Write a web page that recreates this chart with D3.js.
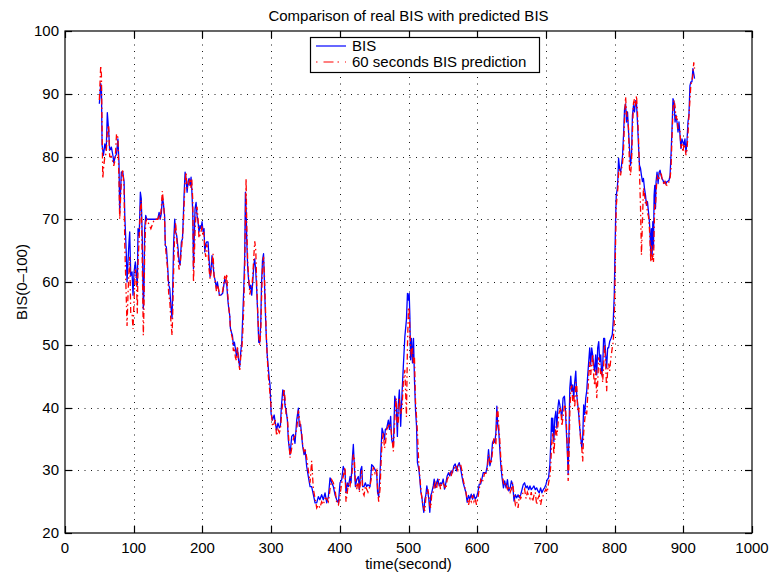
<!DOCTYPE html>
<html>
<head>
<meta charset="utf-8">
<title>Comparison of real BIS with predicted BIS</title>
<script src="https://cdn.jsdelivr.net/npm/d3@7"></script>
<style>
  html, body { margin: 0; padding: 0; background: #fff; }
  svg { display: block; }
  text { font-family: "Liberation Sans", Arial, Helvetica, sans-serif; fill: #000; }
</style>
</head>
<body>
<svg id="chart" width="773" height="573"></svg>
<script>
// Time stamps (seconds) shared by both series
const seconds = [
  50, 52, 53, 54, 55, 56, 58, 60, 61.6, 63.6,
  65, 67.5, 70, 71, 73, 75, 77, 78.6, 79.6, 82,
  84, 86, 87, 88, 89.3, 90.3, 91.7, 93.2, 94.2, 95.7,
  97.6, 99, 100.5, 102.4, 104, 105.3, 106.3, 108, 109.7, 111,
  112.6, 114, 115, 116, 117.5, 119,
  125, 130, 135, 137, 138.5, 140.3, 141.7, 143, 145, 146,
  147.5, 149, 151, 152.5, 154, 155.8, 156.8, 158.2, 159.7, 161,
  162.6, 164.6, 166, 167.5, 169.4, 171, 172.3, 173.3, 174.8, 176.2,
  177.7, 179.2, 180.6, 182, 183.5, 184.5, 186, 187, 188, 189.3,
  190.8, 192.2, 193.7, 195, 196.6, 198, 199.5, 201, 202.4, 203.4,
  205, 206.3, 208.2, 209.7, 211.2, 212.6, 214, 215.5, 217, 219,
  220.4, 221.8, 223.3, 224.7, 227, 229.5, 232.5, 234, 235.5, 236.9,
  238.4, 239.8, 240.8, 242.2, 243.7, 245.1, 246.6, 248, 249.5, 251,
  252.9, 254.4, 255.8, 257.3, 258.8, 260.2, 261.6, 262.6, 263.6, 264.6,
  266, 267.5, 269, 270.4, 271.8, 273.3, 274.8, 276.2, 277.7, 279,
  280.6, 282, 283.5, 285, 286, 287.5, 289, 290.3, 291.5, 292.9,
  294.4, 296, 297.3, 298.5, 300, 302, 304.5, 306, 308, 310,
  312, 313.5, 315, 317, 318.8, 320.3, 321.7, 323.7, 325, 327.6,
  330, 332.4, 334.8, 337.3, 339.7, 341, 343, 344.5, 346, 348,
  349.4, 351.8, 354.2, 356.7, 359, 361.5, 364, 366.4, 368.8, 371,
  373.6, 376, 378.5, 381, 383.4, 385.8, 388.2, 390.6, 393, 395.5,
  398, 400.3, 402.8, 405, 407.6, 409, 411, 412.5, 415, 416.4,
  417.8, 419.7, 421.2, 422.7, 424.6, 427, 428.5, 430.4, 432, 433.3,
  435.3, 437.2, 439, 441, 444, 446.4, 448.9, 451.3, 453.7, 455,
  456.6, 458.6, 460, 461.5, 463.4, 465, 466.3, 468.3, 470.7, 472.2,
  474, 475.5, 478, 480, 482, 483.8, 485, 486.7, 488.6, 490.6,
  492.5, 494.7, 497, 498.5, 500, 501, 502, 503, 504.4, 505.8,
  507.3, 508.7, 510.2, 511.7, 513, 515, 516.5, 518, 519.5, 520.9,
  522.3, 523.8, 525.2, 526.7, 528.1, 529.6, 531, 532.5, 534, 536,
  537.4, 538.8, 540.8, 542.7, 544.7, 546.6, 548.5, 550.5, 552.4, 554.4,
  556.3, 558.3, 560.2, 562, 564, 566, 568, 570, 571.8, 573.8,
  575.7, 577.7, 579.6, 581.6, 583.5, 585.4, 587.4, 589.3, 591.3, 593.2,
  595.2, 597, 599, 601, 603, 605, 606.8, 608.7, 610.7, 612.6,
  614.6, 616.5, 618.5, 620.4, 622.3, 624.2, 625.7, 627.2, 628.6, 630,
  631.4, 632.8, 634.3, 636.2, 638.2, 640, 642, 644, 646, 648,
  649.8, 651.7, 653.6, 655.6, 657.5, 659.5, 661.4, 663.3, 665.2, 667,
  669, 671, 673, 674.9, 676.8, 678.7, 680.7, 682.6, 684.6, 686.5,
  688.4, 690.3, 692.3, 694.2, 696.1, 698, 700, 701.9, 703.9, 705.8,
  707.2, 708.2, 709.2, 710, 711.6, 713, 714.5, 716, 717.4, 718.8,
  720.3, 721.7, 723.2, 725, 727, 728.5, 730, 731.4, 732.4, 733.3,
  734.8, 736.2, 737.6, 739, 740.5, 742, 743.5, 744.9, 746.4, 747.8,
  749.3, 750.7, 752.2, 753.6, 755, 756.5, 758, 759.4, 760.9, 762.3,
  763.8, 765.2, 766.7, 768.1, 769.6, 771, 772.5, 774, 775.4, 776.9,
  778.3, 779.8, 781.2, 782.6, 784, 785.5, 787, 788.4, 789.9, 791.3,
  792.8, 794.7, 796.6, 798, 799.5, 800.5, 801.4, 802.4, 803.9, 804.8,
  805.8, 807.2, 808.7, 810.1, 811.6, 813, 814.5, 816, 817.4, 818.8,
  820.3, 821.7, 823.2, 824.6, 826, 827.5, 829, 830.4, 831.9, 833.3,
  834.8, 836.2, 837.7, 839.1, 840.6, 842, 843.5, 845, 846.4, 847.8,
  849.3, 850.7, 851.7, 852.7, 853.7, 854.6, 855.6, 856.6, 857.5, 858.5,
  859.5, 860.4, 861.8, 863.3, 864.7, 866.2, 867.6, 869, 870.5, 872,
  873.4, 874.9, 876.3, 877.8, 879.2, 880.7, 882.1, 883.6, 885, 886.5,
  888, 889.4, 890.8, 892.3, 893.7, 895.2, 896.6, 898, 899.5, 901,
  902.4, 903.9, 905.3, 906.8, 908.2, 909.7, 911, 912.6, 914, 915.2, 916.4
];

// Measured BIS
const bis = [
  88.4, 91.6, 91, 81.8, 81, 80.2, 82, 81, 87, 84,
  81, 81.5, 80, 79, 80, 80.4, 82.8, 79, 71, 77.5,
  77.6, 76, 70.6, 68, 64.2, 60, 63.2, 66.4, 68, 61,
  61.6, 57.9, 61.6, 63.2, 61, 59.5, 68.5, 67.4, 74.3, 73.3,
  66.4, 55.7, 58.9, 68.5, 70.6, 70,
  70, 70, 70, 71.1, 70, 71, 73.5, 72.7, 70.6, 65.8,
  65.6, 63.2, 59.5, 59, 56.3, 54.2, 59, 66.4, 70, 68,
  67.4, 65.3, 63.2, 62.7, 66.4, 66.9, 70.6, 73.8, 77.5, 76.5,
  74.3, 76, 76.5, 75.4, 76.7, 74.9, 71, 62.1, 66.4, 71.7,
  72.7, 70.6, 69.6, 68, 69, 68.5, 69.6, 68, 68.5, 64.8,
  66.1, 66.4, 66.4, 63.7, 60.8, 62.1, 64.2, 62.7, 61, 60,
  59, 60, 59, 57.9, 57.9, 58.2, 60.5, 60, 59.5, 57.3,
  55.7, 54.7, 52.6, 52, 51.5, 49.9, 50.4, 49.4, 48.3, 49.4,
  47.3, 46.5, 48.8, 50.4, 54.7, 58.9, 64.2, 74.3, 71.7, 66.4,
  62.1, 60, 58.9, 59.5, 57.9, 60, 62.7, 63.7, 61.6, 58.9,
  54.7, 50.4, 50.4, 53.6, 59.5, 63.5, 64.5, 60, 55.7, 51.5,
  48.3, 46.2, 44.6, 43.5, 39, 38, 38.8, 37.6, 36.4, 37.5,
  36.8, 37, 40.2, 42.8, 42.6, 40.2, 39.7, 38, 34.9, 32.5,
  35.4, 35.7, 34.3, 38, 39.9, 37, 37.3, 35.4, 33.8, 32.5,
  33.3, 30.6, 29, 27.4, 27.4, 26.1, 24.8, 24.8, 25.8, 25.3,
  26.1, 25.3, 26.4, 24.8, 25.8, 28.8, 28, 27.4, 26.1, 25.3,
  24.8, 28, 28.5, 30.6, 29.8, 26.4, 28, 27.4, 29, 28,
  31.1, 34.1, 30.6, 27.4, 28.5, 29, 26.9, 30.1, 30.6, 27.4,
  27.4, 28, 27.4, 27.7, 27.4, 30.9, 30.6, 30.1, 29.6, 26.4,
  25.8, 29.6, 33.3, 36.7, 35.9, 34.9, 36.5, 36.7, 38, 36.5,
  38.6, 34.9, 33.8, 41.8, 40.7, 35.4, 40.2, 42.8, 37, 42.3,
  46.6, 51.3, 54, 58.2, 57.1, 58.2, 54.5, 47.6, 51, 47.1,
  51, 44.4, 39.7, 37, 31.2, 30.2, 28.6, 26.5, 25.7, 24.3,
  23.3, 25.4, 26, 27.5, 26.5, 25.4, 23.3, 26, 26.5, 27.5,
  28.6, 27.2, 28, 28.6, 27.5, 28, 27.8, 28.6, 27, 28,
  29.1, 29.6, 29.1, 29.9, 29.6, 30.7, 31, 29.9, 30.7, 31.2,
  30.4, 29.1, 28, 27.2, 26.5, 24.9, 26, 25.4, 26.2, 25.4,
  26.2, 25.4, 25.7, 26.5, 27.8, 27.8, 28.6, 29.6, 29.6, 29.6,
  30.7, 33.3, 30.7, 31.7, 34.4, 34.9, 34.4, 36, 40.2, 37,
  36.2, 33.6, 30.9, 28.8, 27.2, 28.3, 27.2, 28.5, 26.7, 27.2,
  28.3, 27.7, 25.1, 26.1, 25.6, 26.1, 25.6, 26.1, 26.9, 27.7,
  28, 27.2, 27.5, 26.9, 27.5, 26.9, 27.2, 27.5, 26.9, 27.2,
  26.7, 26.4, 27.2, 26.4, 26.9, 27.2, 27.7, 28.5, 28.8, 30.9,
  34.6, 38.3, 36.2, 38.3, 34.6, 38.3, 39.4, 36.7, 39.9, 41.2,
  40.4, 39.4, 38.3, 41.5, 41.8, 39.4, 35.7, 32.5, 29.3, 34.1,
  43.1, 45, 42.6, 43.6, 41.5, 44.1, 45.8, 42, 40.4, 38.9,
  36.7, 35.2, 33.6, 35.2, 40.4, 38.9, 41.5, 42.6, 45.2, 47.3,
  49.5, 46.8, 49.5, 48.4, 46.8, 45.8, 48.4, 45.2, 49.5, 50.5,
  47.3, 48.4, 45.2, 46.3, 51, 51, 48.4, 46.3, 49.5, 49.5,
  50.5, 51, 51.6, 53.7, 57.9, 64.3, 69.6, 73.8, 74.9, 76.5,
  79.7, 78.1, 77.5, 78.6, 80.2, 83.4, 87.6, 88.4, 85.5, 87.1,
  83.9, 81.3, 78.6, 80.2, 86.6, 88.1, 87.1, 88.9, 88.4, 85.5,
  81.8, 78.6, 78.1, 77, 76, 76.5, 74.9, 73.8, 72.2, 72.8,
  71.2, 69.6, 67.5, 64.5, 68.5, 64, 69.6, 65.4, 73.8, 75.4,
  71.7, 76, 77.5, 75.7, 77.5, 77.8, 77, 76.5, 76.2, 75.7,
  76, 75.7, 76, 76.1, 76.2, 77, 80.2, 84.4, 89.2, 88.7,
  85.5, 86.6, 85.5, 83.9, 85.5, 83.4, 81.3, 82.8, 82.3, 81.8,
  82.8, 80.7, 82.3, 85.5, 86.6, 91.3, 91.9, 91.9, 94, 93.2, 92.4
];

// 60-second-ahead BIS prediction
const predicted = [
  89, 94.5, 93, 84, 76.5, 78, 80, 80.5, 84, 85,
  80, 80, 79, 78.5, 79.5, 83.6, 83, 76, 70, 76,
  78, 75, 66, 62, 57, 53, 58, 62, 64, 55,
  55, 52.5, 57, 62, 60, 55, 63, 67, 72, 73,
  62, 51.5, 56, 65, 69.5, 70,
  68.5, 70, 70, 70.5, 70, 72, 74.5, 73, 70, 66,
  64, 62.5, 58, 57, 54, 51.5, 55, 62, 68, 69.5,
  67, 64, 62, 62.5, 65, 67, 69, 72, 76, 77.5,
  75, 75, 76, 76.5, 75, 76.5, 73, 60, 63, 68,
  71, 72, 70, 67, 67.5, 68, 69, 67.5, 68, 65,
  64, 66, 65, 62, 60.5, 61.5, 63, 64.5, 61, 60,
  58.5, 59.5, 59, 57.9, 58, 58.5, 61, 59.8, 61.3, 58,
  56, 54.5, 52.5, 51.7, 51, 49, 49.5, 48, 47.5, 49.8,
  47, 46, 48, 49, 52, 56, 62, 70, 76.5, 69,
  63, 60.5, 58, 58.8, 59, 61, 64, 66.5, 65, 60,
  55, 51.5, 50, 52, 57, 62.5, 64, 61, 57, 52,
  48, 45, 43.5, 42, 40, 37, 37.5, 38, 35.5, 36.5,
  36, 36.5, 38.5, 41, 43, 41.5, 39, 38.5, 36, 32,
  33.5, 35, 35.5, 36.5, 39.5, 38.5, 36.5, 36, 34, 33,
  33.5, 32, 30, 28, 31.5, 27, 25.5, 24, 24.5, 24,
  25, 24.5, 25.5, 25.5, 25, 27, 28.5, 28, 27, 24.8,
  24.5, 26, 28, 29, 30.5, 25, 26.5, 28, 27.5, 29,
  29.5, 32.5, 32, 28, 27, 28.5, 26.5, 28.5, 30, 26.5,
  26, 27.5, 27, 26.5, 27.5, 29, 30.5, 29.5, 30, 27,
  25, 27, 31, 34.5, 36, 33.5, 34, 36.5, 37, 37.5,
  37, 35.5, 33, 38, 41.5, 37, 37.5, 41.5, 39, 40,
  44, 46, 38.5, 50, 56, 55.5, 52, 50, 48, 49.5,
  47, 48, 41, 38.5, 36, 31, 29, 27, 25.5, 24.5,
  24, 23.5, 25.5, 26.5, 27, 26, 24.5, 24, 26.5, 26.5,
  27.5, 28, 27, 28.5, 28.5, 27, 28, 28, 27.5, 27,
  28.5, 29, 29.5, 29, 30, 30, 30.8, 30.5, 30, 31,
  31, 30, 28.5, 27.5, 26.5, 25.5, 24.5, 25.5, 25, 26,
  25, 25.5, 24.5, 25.5, 27, 28.5, 28, 28.5, 29.5, 29.5,
  30, 32.5, 31.5, 31, 33, 35, 35, 34, 39, 40,
  37, 35, 32, 30, 28, 27.5, 28, 27, 27.5, 26.5,
  27, 28, 26, 24.5, 25, 24, 26, 25.5, 26, 26.5,
  27, 25.5, 26.5, 26, 25.5, 26.5, 25, 26, 26.5, 24.5,
  25.5, 26, 24.5, 25.5, 26, 26.5, 27, 26.5, 28, 29,
  31, 34, 35, 36, 32.5, 35, 37, 35.5, 37, 39,
  39.5, 40, 37, 38.5, 40.5, 40, 37, 33, 28.3, 30,
  39, 43, 43.5, 41, 42, 40, 44, 43.5, 39.5, 40,
  37, 34.5, 33.6, 31.4, 36, 38, 39.5, 38.9, 42, 45,
  47.3, 45.2, 47, 48.5, 45, 43.5, 46, 41.5, 44, 48,
  47, 45.2, 46, 44, 46.5, 50, 47, 42.6, 46, 47,
  45.8, 48, 49.5, 50.5, 53.7, 60, 66, 72, 74, 75,
  77.5, 78, 77, 78, 79, 81, 86, 89.5, 87, 86,
  84.5, 78, 77, 79, 84, 88.5, 89.2, 88, 89.7, 87,
  83, 77.5, 72, 64.3, 70, 75, 74, 72.5, 73, 71,
  70.5, 68.5, 66, 63.2, 66, 63.5, 64.5, 63.2, 68, 72.5,
  72, 74, 77, 76.5, 76.5, 77.5, 77.5, 76.5, 76, 75.5,
  76, 75.5, 75.4, 75.6, 76, 76.5, 78, 83, 87.5, 89,
  88, 86, 86.5, 84.5, 84.5, 84, 81.3, 82, 80.7, 82,
  81.5, 80.2, 81, 83.5, 86.5, 89, 91.5, 92, 93, 95, 94
];

const xTicks = [0, 100, 200, 300, 400, 500, 600, 700, 800, 900, 1000];
const yTicks = [20, 30, 40, 50, 60, 70, 80, 90, 100];
const seriesNames = ["BIS", "60 seconds BIS prediction"];
const seriesColors = ["#0000ff", "#ff0000"];

const titleText = "Comparison of real BIS with predicted BIS";
const xLabelText = "time(second)";
const yLabelText = "BIS(0\u2013100)";

// ---- layout ----
const svg = d3.select("#chart");
const W = 773, H = 573;
const plot = { left: 65, right: 752, top: 31, bottom: 533 };

svg.append("rect").attr("width", W).attr("height", H).attr("fill", "#fff");

const x = d3.scaleLinear().domain([0, 1000]).range([plot.left, plot.right]);
const y = d3.scaleLinear().domain([20, 100]).range([plot.bottom, plot.top]);

const n = Math.min(seconds.length, bis.length, predicted.length);
if (seconds.length !== bis.length || seconds.length !== predicted.length) {
  console.error("length mismatch", seconds.length, bis.length, predicted.length);
}
const rows = d3.range(n).map(i => ({ t: seconds[i], b: bis[i], p: predicted[i] }));

// dotted grid
const grid = svg.append("g").attr("stroke", "#000").attr("stroke-width", 1)
  .attr("stroke-dasharray", "1,5.5").attr("opacity", 0.9);
grid.selectAll("line.gx").data(xTicks.slice(1, -1)).join("line")
  .attr("x1", d => Math.round(x(d)) + 0.5).attr("x2", d => Math.round(x(d)) + 0.5)
  .attr("y1", plot.bottom).attr("y2", plot.top);
grid.selectAll("line.gy").data(yTicks.slice(1, -1)).join("line")
  .attr("y1", d => Math.round(y(d)) + 0.5).attr("y2", d => Math.round(y(d)) + 0.5)
  .attr("x1", plot.left).attr("x2", plot.right);

// series
svg.append("defs").append("clipPath").attr("id", "plotClip")
  .append("rect").attr("x", plot.left).attr("y", plot.top)
  .attr("width", plot.right - plot.left).attr("height", plot.bottom - plot.top);

const lineBis = d3.line().x(d => x(d.t)).y(d => y(d.b));
const linePred = d3.line().x(d => x(d.t)).y(d => y(d.p));

const series = svg.append("g").attr("clip-path", "url(#plotClip)").attr("fill", "none");
series.append("path").datum(rows).attr("d", lineBis)
  .attr("stroke", seriesColors[0]).attr("stroke-width", 1.3).attr("stroke-linejoin", "round");
series.append("path").datum(rows).attr("d", linePred)
  .attr("stroke", seriesColors[1]).attr("stroke-width", 1.3)
  .attr("stroke-dasharray", "6,3,1.5,3");

// axes box and inward ticks
const axes = svg.append("g").attr("stroke", "#000").attr("stroke-width", 1.2).attr("fill", "none");
axes.append("rect").attr("x", plot.left).attr("y", plot.top)
  .attr("width", plot.right - plot.left).attr("height", plot.bottom - plot.top);
const tickLen = 7;
xTicks.forEach(d => {
  const px = Math.round(x(d)) + 0.5;
  axes.append("line").attr("x1", px).attr("x2", px).attr("y1", plot.bottom).attr("y2", plot.bottom - tickLen);
  axes.append("line").attr("x1", px).attr("x2", px).attr("y1", plot.top).attr("y2", plot.top + tickLen);
});
yTicks.forEach(d => {
  const py = Math.round(y(d)) + 0.5;
  axes.append("line").attr("y1", py).attr("y2", py).attr("x1", plot.left).attr("x2", plot.left + tickLen);
  axes.append("line").attr("y1", py).attr("y2", py).attr("x1", plot.right).attr("x2", plot.right - tickLen);
});

// tick labels
const fs = 15;
svg.append("g").selectAll("text").data(xTicks).join("text")
  .attr("x", d => x(d)).attr("y", plot.bottom + 20)
  .attr("text-anchor", "middle").attr("font-size", fs).text(d => d);
svg.append("g").selectAll("text").data(yTicks).join("text")
  .attr("x", plot.left - 6).attr("y", d => y(d) + 5)
  .attr("text-anchor", "end").attr("font-size", fs).text(d => d);

// title and axis labels
svg.append("text").attr("x", (plot.left + plot.right) / 2).attr("y", 21)
  .attr("text-anchor", "middle").attr("font-size", fs).text(titleText);
svg.append("text").attr("x", (plot.left + plot.right) / 2).attr("y", 569)
  .attr("text-anchor", "middle").attr("font-size", fs).text(xLabelText);
svg.append("text").attr("transform", `translate(27,${(plot.top + plot.bottom) / 2}) rotate(-90)`)
  .attr("text-anchor", "middle").attr("font-size", fs).text(yLabelText);

// legend
const lg = svg.append("g");
lg.append("rect").attr("x", 310.5).attr("y", 37.5).attr("width", 229).attr("height", 35)
  .attr("fill", "#fff").attr("stroke", "#000").attr("stroke-width", 1.2);
const legendRows = [46, 62];
seriesNames.forEach((name, i) => {
  const ly = legendRows[i];
  const ln = lg.append("line").attr("x1", 316).attr("x2", 346).attr("y1", ly).attr("y2", ly)
    .attr("stroke", seriesColors[i]).attr("stroke-width", 1.2);
  if (i === 1) ln.attr("stroke-dasharray", "1.5,6,10,4");
  lg.append("text").attr("x", 352).attr("y", ly + 5).attr("font-size", fs).text(name);
});
</script>
</body>
</html>
